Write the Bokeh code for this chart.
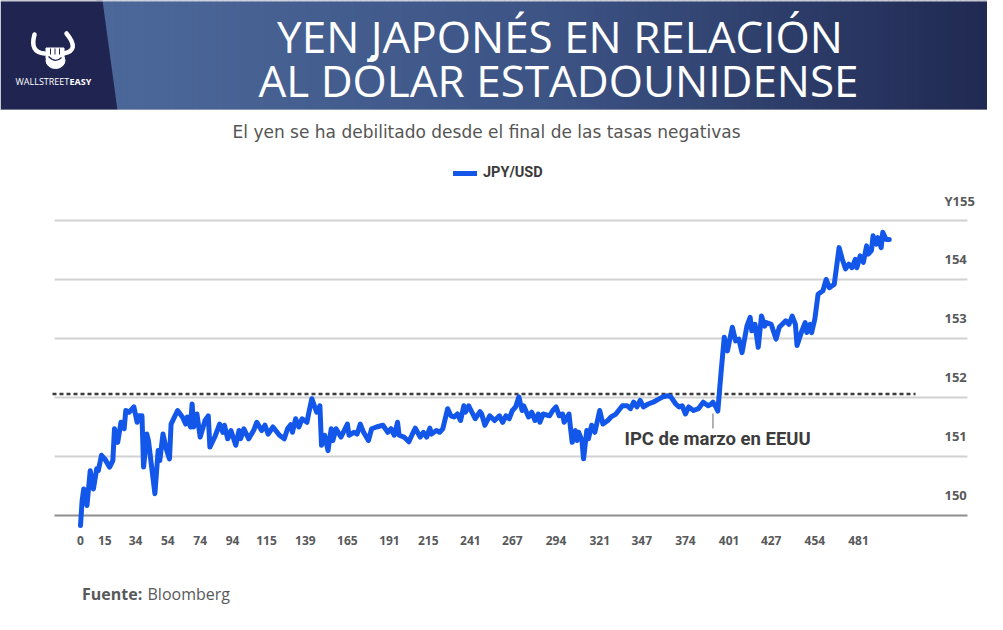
from bokeh.plotting import figure
from bokeh.models import Range1d, FixedTicker
from bokeh.layouts import column
from bokeh.embed import file_html
from bokeh.resources import INLINE
from bokeh.core.properties import value

# ---------------- data ----------------
title_lines = ["YEN JAPONÉS EN RELACIÓN", "AL DÓLAR ESTADOUNIDENSE"]
subtitle = "El yen se ha debilitado desde el final de las tasas negativas"
series_name = "JPY/USD"
source_label = "Fuente:"
source_name = "Bloomberg"
event_label = "IPC de marzo en EEUU"
event_idx = 391
ref_level = 152.06

x_ticks = [0, 15, 34, 54, 74, 94, 115, 139, 165, 191, 215, 241, 267, 294,
           321, 347, 374, 401, 427, 454, 481]
y_levels = [150, 151, 152, 153, 154, 155]
y_labels = ["150", "151", "152", "153", "154", "Y155"]

x_idx = [0, 1, 2, 4, 6, 7, 8, 10, 11, 13, 15, 18, 20, 21, 23, 25, 26, 27, 28, 30,
         33, 35, 36, 38, 39, 41, 42, 44, 46, 48, 49, 51, 53, 55, 56, 60, 63, 65, 66, 68,
         69, 70, 72, 74, 77, 79, 80, 83, 86, 88, 89, 91, 93, 96, 98, 99, 101, 104, 107, 109,
         112, 114, 116, 119, 123, 126, 128, 130, 131, 133, 135, 137, 140, 141, 143, 146, 148, 149, 151, 153,
         155, 156, 158, 161, 163, 165, 166, 169, 171, 173, 175, 178, 180, 183, 187, 190, 192, 194, 196, 197,
         200, 203, 205, 207, 210, 212, 214, 216, 217, 220, 222, 224, 227, 229, 231, 233, 235, 237, 238, 240,
         242, 244, 247, 248, 250, 253, 256, 259, 261, 263, 265, 267, 269, 271, 273, 274, 277, 279, 281, 283,
         284, 286, 290, 292, 294, 296, 298, 299, 302, 303, 304, 306, 307, 308, 310, 311, 313, 314, 316, 318,
         321, 323, 326, 328, 331, 335, 338, 340, 342, 344, 346, 348, 351, 354, 358, 360, 363, 365, 368, 370,
         372, 374, 376, 379, 382, 385, 388, 390, 391, 393, 394, 396, 398, 400, 401, 403, 405, 407, 409, 412,
         414, 415, 417, 419, 421, 423, 424, 427, 430, 432, 436, 438, 440, 442, 443, 446, 448, 449, 451, 452,
         454, 456, 459, 461, 463, 466, 469, 471, 473, 475, 477, 479, 480, 482, 484, 486, 487, 489, 490, 492,
         493, 495, 496, 498, 500]
jpy_usd = [149.83, 150.25, 150.45, 150.17, 150.76, 150.59, 150.45, 150.79, 150.76, 151.02,
           150.96, 150.82, 150.93, 151.47, 151.24, 151.58, 151.55, 151.47, 151.78, 151.75,
           151.84, 151.58, 151.69, 151.69, 150.82, 151.38, 151.27, 150.82, 150.37, 151.10,
           150.93, 151.38, 151.13, 150.96, 151.55, 151.78, 151.67, 151.55, 151.67, 151.50,
           151.89, 151.50, 151.72, 151.33, 151.61, 151.69, 151.16, 151.33, 151.55, 151.41,
           151.53, 151.30, 151.44, 151.19, 151.44, 151.30, 151.47, 151.30, 151.44, 151.58,
           151.44, 151.53, 151.38, 151.50, 151.36, 151.30, 151.47, 151.54, 151.41, 151.64,
           151.50, 151.64, 151.58, 151.72, 151.98, 151.75, 151.86, 151.19, 151.36, 151.10,
           151.47, 151.27, 151.47, 151.33, 151.44, 151.55, 151.36, 151.41, 151.38, 151.55,
           151.41, 151.27, 151.47, 151.50, 151.53, 151.41, 151.47, 151.36, 151.58, 151.36,
           151.33, 151.25, 151.37, 151.48, 151.33, 151.41, 151.33, 151.48, 151.38, 151.44,
           151.41, 151.47, 151.81, 151.69, 151.67, 151.72, 151.61, 151.86, 151.75, 151.86,
           151.75, 151.64, 151.76, 151.72, 151.53, 151.69, 151.61, 151.69, 151.58, 151.69,
           151.64, 151.78, 151.84, 152.01, 151.78, 151.86, 151.67, 151.75, 151.61, 151.72,
           151.58, 151.72, 151.69, 151.78, 151.84, 151.69, 151.72, 151.58, 151.72, 151.47,
           151.24, 151.44, 151.27, 151.41, 151.27, 150.96, 151.44, 151.30, 151.53, 151.41,
           151.78, 151.55, 151.61, 151.67, 151.72, 151.86, 151.86, 151.81, 151.92, 151.84,
           151.95, 151.84, 151.89, 151.92, 151.98, 152.01, 152.03, 152.01, 151.89, 151.84,
           151.86, 151.72, 151.84, 151.78, 151.81, 151.92, 151.86, 151.89, 151.92, 151.83,
           151.77, 152.42, 153.02, 152.79, 152.93, 153.19, 152.96, 152.99, 152.76, 153.21,
           153.36, 153.13, 153.24, 152.85, 153.38, 153.21, 153.27, 153.24, 152.99, 153.19,
           153.30, 153.24, 153.38, 153.24, 152.88, 153.13, 153.27, 153.10, 153.24, 153.10,
           153.33, 153.75, 153.81, 154.00, 153.86, 153.92, 154.54, 154.34, 154.18, 154.26,
           154.20, 154.34, 154.20, 154.40, 154.29, 154.57, 154.43, 154.49, 154.74, 154.60,
           154.71, 154.54, 154.80, 154.68, 154.68]

# ---------------- styling ----------------
W = 987
GRAY_TXT = "#58595b"
BLUE = "#1257e9"
SANS = value("Open Sans")
COND = value("Roboto")

# ---------------- header ----------------
hdr = figure(width=W, height=110, x_range=Range1d(0, W), y_range=Range1d(110, 0),
             output_backend="svg", toolbar_location=None, min_border=0,
             x_axis_location=None, y_axis_location=None, outline_line_color=None)
hdr.xgrid.visible = False
hdr.ygrid.visible = False

stops = [(100, (76, 104, 154)), (560, (60, 83, 132)), (1003, (31, 40, 80))]
def grad(x):
    for (xa, ca), (xb, cb) in zip(stops[:-1], stops[1:]):
        if x <= xb:
            t = (x - xa) / (xb - xa)
            return "#%02x%02x%02x" % tuple(int(round(a + (b - a) * t)) for a, b in zip(ca, cb))
    return "#%02x%02x%02x" % stops[-1][1]

step = 6
lefts = list(range(96, 1003, step))
hdr.quad(left=lefts, right=[l + step + 0.5 for l in lefts], top=0, bottom=110,
         color=[grad(l + step / 2) for l in lefts], line_color=None)
hdr.patch([0, 102, 117, 0], [0, 0, 110, 110], color="#1f2550", line_color=None)
hdr.segment(x0=0, x1=1003, y0=109.5, y1=109.5, line_color="#c9ccd3", line_width=1)
hdr.segment(x0=0, x1=1003, y0=0.5, y1=0.5, line_color="#c9ccd3", line_width=1)

# logo
hdr.quadratic(x0=[44, 63], y0=[53, 53], x1=[34, 66], y1=[34, 33],
              cx=[29, 80], cy=[52, 50], line_color="white", line_width=4.5, line_cap="round")
hdr.ellipse(x=55, y=60, width=19, height=16, color="white")
hdr.quad(left=45.5, right=63.5, top=47.5, bottom=58, color="white")
hdr.segment(x0=[50, 54.5, 59], x1=[50, 54.5, 59], y0=[48, 48, 48], y1=[54, 54, 54],
            line_color="#1f2550", line_width=1)
hdr.quadratic(x0=48, y0=56, x1=61, y1=57, cx=55, cy=63, line_color="#1f2550", line_width=1.2)
hdr.text(x=[15], y=[80.5], text=["WALLSTREET"], text_font=SANS, text_font_size="9px",
         text_color="white", text_baseline="middle")
hdr.text(x=[69], y=[80.5], text=["EASY"], text_font=SANS, text_font_size="9px",
         text_font_style="bold", text_color="white", text_baseline="middle")

hdr.text(x=[559.5, 558], y=[35, 79.5], text=title_lines, text_align="center",
         text_baseline="middle", text_font=SANS, text_font_size="44px", text_color="white")

# ---------------- main chart ----------------
PXX = 1.6175   # px per index step
PXY = 59.0     # px per yen
x0_page = 80.0
main = figure(width=W, height=450,
              x_range=Range1d((0 - x0_page) / PXX, (W - x0_page) / PXX),
              y_range=Range1d(150 - 13 / PXY, 155 + 110 / PXY),
              output_backend="svg", toolbar_location=None,
              min_border_left=0, min_border_right=0, min_border_top=0, min_border_bottom=32,
              y_axis_location=None, outline_line_color=None)
main.xgrid.visible = False
main.ygrid.visible = False

main.xaxis.ticker = FixedTicker(ticks=x_ticks)
main.xaxis.axis_line_color = None
main.xaxis.major_tick_line_color = None
main.xaxis.minor_tick_line_color = None
main.xaxis.major_tick_out = 0
main.xaxis.major_tick_in = 0
main.xaxis.major_label_standoff = 7
main.xaxis.major_label_text_font = "Open Sans"
main.xaxis.major_label_text_font_style = "bold"
main.xaxis.major_label_text_font_size = "12px"
main.xaxis.major_label_text_color = GRAY_TXT

grid_x0 = (54 - x0_page) / PXX
grid_x1 = (967 - x0_page) / PXX
main.segment(x0=grid_x0, x1=grid_x1, y0=y_levels[1:], y1=y_levels[1:],
             line_color="#d2d2d2", line_width=1.8)
main.segment(x0=grid_x0, x1=grid_x1, y0=y_levels[0], y1=y_levels[0],
             line_color="#8e8e8e", line_width=2)

main.segment(x0=(52 - x0_page) / PXX, x1=(915 - x0_page) / PXX, y0=ref_level, y1=ref_level,
             line_color="#3b3b3b", line_width=2.5, line_dash="4 3")

main.segment(x0=event_idx, x1=event_idx, y0=151.475, y1=151.729,
             line_color="#9a9a9a", line_width=1.5)

main.line(x_idx, jpy_usd, line_width=5, line_color=BLUE, line_join="round",
          line_cap="round", legend_label=series_name)

main.text(x=[(624 - x0_page) / PXX], y=[151.305], text=[event_label], text_font=COND,
          text_font_style="bold", text_font_size="18.5px", text_color="#3c3c3c",
          text_baseline="middle", text_align="left")

main.text(x=[(944 - x0_page) / PXX] * len(y_levels), y=y_levels, text=y_labels,
          y_offset=-20, text_baseline="middle", text_align="left", text_font=SANS,
          text_font_style="bold", text_font_size="13px", text_color=GRAY_TXT)

main.text(x=[(486 - x0_page) / PXX], y=[155 + (220 - 131) / PXY], text=[subtitle],
          text_align="center", text_baseline="middle", text_font=value("DejaVu Sans"),
          text_font_size="17px", text_color="#555555")

lg = main.legend[0]
lg.location = (453, 347)
lg.orientation = "horizontal"
lg.glyph_width = 24
lg.glyph_height = 16
lg.label_height = 16
lg.label_standoff = 6
lg.padding = 0
lg.margin = 0
lg.spacing = 0
lg.border_line_color = None
lg.background_fill_alpha = 0
lg.label_text_font = "Roboto"
lg.label_text_font_style = "bold"
lg.label_text_font_size = "14.5px"
lg.label_text_color = "#3a3a3a"

# ---------------- footer ----------------
ftr = figure(width=W, height=54, x_range=Range1d(0, W), y_range=Range1d(614, 560),
             output_backend="svg", toolbar_location=None, min_border=0,
             x_axis_location=None, y_axis_location=None, outline_line_color=None)
ftr.xgrid.visible = False
ftr.ygrid.visible = False
ftr.text(x=[81.5], y=[593], text=[source_label], text_font=SANS, text_font_style="bold",
         text_font_size="16px", text_color=GRAY_TXT, text_baseline="middle")
ftr.text(x=[147], y=[593], text=[source_name], text_font=SANS,
         text_font_size="16px", text_color=GRAY_TXT, text_baseline="middle")

layout = column(hdr, main, ftr, spacing=0)
open("out.html", "w").write(file_html(layout, INLINE))
